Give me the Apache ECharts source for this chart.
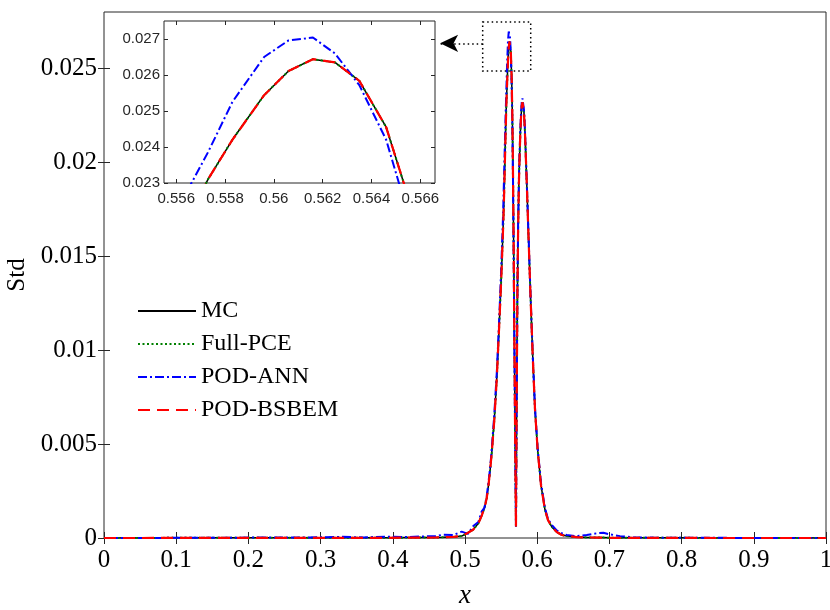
<!DOCTYPE html>
<html>
<head>
<meta charset="utf-8">
<script src="https://cdn.jsdelivr.net/npm/echarts@6/dist/echarts.min.js"></script>
<style>
html,body{margin:0;padding:0;background:#fff;}
#chart{width:830px;height:610px;}
</style>
</head>
<body>
<div id="chart"></div>
<script>
// ---- data ----
const xs = [0, 0.05, 0.1, 0.15, 0.2, 0.25, 0.3, 0.33, 0.36, 0.39, 0.42, 0.44, 0.46, 0.47, 0.4838, 0.4954, 0.5042, 0.5115, 0.5185, 0.523, 0.5268, 0.530, 0.5323, 0.535, 0.537, 0.5406, 0.544, 0.547, 0.550, 0.5523, 0.5533, 0.5543, 0.5553, 0.5563, 0.5573, 0.5583, 0.5596, 0.5606, 0.5616, 0.5625, 0.5635, 0.5646, 0.5656, 0.5666, 0.5676, 0.5686, 0.5696, 0.5706, 0.5716, 0.5726, 0.5736, 0.5746, 0.5756, 0.5766, 0.5776, 0.5786, 0.5796, 0.5806, 0.5816, 0.5826, 0.5836, 0.585, 0.5865, 0.588, 0.591, 0.594, 0.597, 0.6006, 0.6053, 0.6108, 0.615, 0.6201, 0.627, 0.634, 0.6409, 0.6547, 0.6686, 0.6824, 0.6916, 0.7, 0.7147, 0.733, 0.76, 0.8, 0.85, 0.9, 0.95, 1.0];

const mcStd = [0, 0, 0.00001, 0.00001, 0.00001, 0.00001, 0.00001, 0.00001, 0.00001, 0.00001, 0.00002, 0.00002, 0.00003, 0.00004, 0.00006, 0.00010, 0.00028, 0.00045, 0.00078, 0.00118, 0.00158, 0.0021, 0.00273, 0.0037, 0.00451, 0.00629, 0.0085, 0.0110, 0.0136, 0.0160, 0.0171, 0.0185, 0.0201, 0.0217, 0.0231, 0.0242, 0.02544, 0.02611, 0.02644, 0.02635, 0.02584, 0.02455, 0.0224, 0.0190, 0.0145, 0.0095, 0.0048, 0.0006, 0.0075, 0.0130, 0.0165, 0.0188, 0.0203, 0.0215, 0.0224, 0.0230, 0.0232, 0.0231, 0.0227, 0.0220, 0.0210, 0.0195, 0.0178, 0.0160, 0.0126, 0.0095, 0.0068, 0.0047, 0.0028, 0.0015, 0.00095, 0.0006, 0.00032, 0.00016, 0.00011, 0.00005, 0.00003, 0.00002, 0.00002, 0.00001, 0.00001, 0.00001, 0.00001, 0.00001, 0, 0, 0, 0];

const pceStd = [0, 0, 0.00001, 0.00001, 0.00001, 0.00001, 0.00001, 0.00001, 0.00001, 0.00001, 0.00002, 0.00002, 0.00003, 0.00004, 0.00006, 0.00010, 0.00028, 0.00045, 0.00078, 0.00118, 0.00158, 0.0021, 0.00273, 0.0037, 0.00451, 0.00629, 0.0085, 0.0110, 0.0136, 0.0160, 0.0171, 0.0185, 0.0201, 0.0217, 0.0231, 0.0242, 0.02544, 0.02611, 0.02644, 0.02635, 0.02584, 0.02455, 0.0224, 0.0190, 0.0145, 0.0095, 0.0048, 0.0006, 0.0075, 0.0130, 0.0165, 0.0188, 0.0203, 0.0215, 0.0224, 0.0230, 0.0232, 0.0231, 0.0227, 0.0220, 0.0210, 0.0195, 0.0178, 0.0160, 0.0126, 0.0095, 0.0068, 0.0047, 0.0028, 0.0015, 0.00095, 0.0006, 0.00032, 0.00016, 0.00011, 0.00005, 0.00003, 0.00002, 0.00002, 0.00001, 0.00001, 0.00001, 0.00001, 0.00001, 0, 0, 0, 0];

const annStd = [0, 0, 0.00001, 0.00001, 0.00002, 0.00002, 0.00004, 0.00006, 0.00003, 0.00007, 0.00005, 0.00008, 0.00010, 0.00018, 0.00016, 0.00034, 0.00022, 0.00064, 0.00085, 0.0014, 0.0016, 0.0022, 0.0029, 0.0038, 0.0047, 0.0066, 0.0088, 0.0113, 0.0142, 0.0167, 0.0180, 0.0196, 0.0211, 0.02259, 0.02385, 0.02525, 0.0265, 0.02696, 0.02704, 0.0266, 0.02572, 0.0242, 0.0219, 0.0186, 0.0142, 0.0093, 0.0047, 0.0006, 0.0076, 0.0132, 0.0167, 0.0190, 0.0205, 0.0217, 0.0226, 0.0232, 0.0234, 0.0233, 0.0228, 0.0221, 0.0211, 0.0196, 0.0179, 0.0161, 0.0127, 0.0096, 0.0069, 0.0048, 0.0029, 0.0016, 0.0010, 0.0007, 0.0004, 0.00025, 0.00016, 0.00010, 0.00016, 0.00025, 0.00028, 0.0002, 0.0001, 0.00004, 0.00002, 0.00001, 0.00001, 0, 0, 0];

const bsbemStd = [0, 0, 0.00001, 0.00001, 0.00001, 0.00001, 0.00001, 0.00001, 0.00001, 0.00001, 0.00002, 0.00002, 0.00003, 0.00004, 0.00006, 0.00010, 0.00028, 0.00045, 0.00078, 0.00118, 0.00158, 0.0021, 0.00273, 0.0037, 0.00451, 0.00629, 0.0085, 0.0110, 0.0136, 0.0160, 0.0171, 0.0185, 0.0201, 0.0217, 0.0231, 0.0242, 0.02544, 0.02611, 0.02644, 0.02635, 0.02584, 0.02455, 0.0224, 0.0190, 0.0145, 0.0095, 0.0048, 0.0006, 0.0075, 0.0130, 0.0165, 0.0188, 0.0203, 0.0215, 0.0224, 0.0230, 0.0232, 0.0231, 0.0227, 0.0220, 0.0210, 0.0195, 0.0178, 0.0160, 0.0126, 0.0095, 0.0068, 0.0047, 0.0028, 0.0015, 0.00095, 0.0006, 0.00032, 0.00016, 0.00011, 0.00005, 0.00003, 0.00002, 0.00002, 0.00001, 0.00001, 0.00001, 0.00001, 0.00001, 0, 0, 0, 0];

const seriesNames = ['MC', 'Full-PCE', 'POD-ANN', 'POD-BSBEM'];
const xTicks = [0, 0.1, 0.2, 0.3, 0.4, 0.5, 0.6, 0.7, 0.8, 0.9, 1];
const yTicks = [0, 0.005, 0.01, 0.015, 0.02, 0.025];
const insetXTicks = [0.556, 0.558, 0.56, 0.562, 0.564, 0.566];
const insetYTicks = [0.023, 0.024, 0.025, 0.026, 0.027];

// ---- chart ----
const chart = echarts.init(document.getElementById('chart'), null, {renderer: 'canvas'});
const SERIF = 'Liberation Serif';
const SANS = 'Liberation Sans';
const AX = '#262626';
const fmt = v => String(+(+v).toFixed(4));

const styles = [
  {color: '#000000', width: 1.5, type: 'solid', z: 2},
  {color: '#008000', width: 2, type: [2, 2.5], z: 3},
  {color: '#0000ff', width: 2, type: [9, 3, 2, 3], z: 4},
  {color: '#ff0000', width: 2.2, type: [12, 7], z: 5}
];
const allData = [mcStd, pceStd, annStd, bsbemStd];
const pair = ys => xs.map((x, i) => [x, ys[i]]);

const series = [];
seriesNames.forEach((name, k) => {
  const st = styles[k];
  const base = {
    name: name, type: 'line', showSymbol: false, symbol: 'none',
    data: pair(allData[k]), color: st.color,
    lineStyle: {color: st.color, width: st.width, type: st.type},
    z: st.z, animation: false, clip: true
  };
  series.push(Object.assign({}, base, {xAxisIndex: 0, yAxisIndex: 0}));
  series.push(Object.assign({}, base, {xAxisIndex: 2, yAxisIndex: 2}));
});

// zoom-box annotation and arrow on main axes
series.push({
  type: 'line', xAxisIndex: 0, yAxisIndex: 0, data: [], silent: true, animation: false,
  markArea: {
    silent: true,
    itemStyle: {color: 'rgba(0,0,0,0)', borderColor: '#000', borderWidth: 1.5, borderType: [1.5, 3]},
    data: [[{coord: [0.5245, 0.02747]}, {coord: [0.5910, 0.02486]}]]
  },
  markLine: {
    silent: true, symbol: ['none', 'arrow'], symbolSize: [13, 18],
    label: {show: false},
    lineStyle: {color: '#000', width: 1.5, type: [1.5, 3]},
    data: [[{coord: [0.5245, 0.02633]}, {coord: [0.4655, 0.02633]}]]
  }
});

const tickOnly = (extra) => Object.assign({
  type: 'value', axisLine: {show: false}, axisLabel: {show: false},
  splitLine: {show: false}, axisTick: {show: true, inside: true, length: 6, lineStyle: {color: AX}}
}, extra);

const option = {
  backgroundColor: '#ffffff',
  animation: false,
  legend: {
    orient: 'vertical', left: 132, top: 294, itemWidth: 58, itemHeight: 14, itemGap: 9,
    data: seriesNames,
    itemStyle: {color: 'rgba(0,0,0,0)', borderWidth: 0, opacity: 0},
    textStyle: {fontFamily: SERIF, fontSize: 24, color: '#000', lineHeight: 24},
    backgroundColor: 'rgba(0,0,0,0)'
  },
  grid: [
    {left: 104, top: 12, width: 722, height: 526, show: true, borderColor: AX, borderWidth: 1, backgroundColor: '#fff', containLabel: false, outerBoundsMode: 'none'},
    {left: 164, top: 21, width: 271, height: 162, show: true, borderColor: AX, borderWidth: 1, backgroundColor: '#fff', containLabel: false, outerBoundsMode: 'none'}
  ],
  xAxis: [
    {type: 'value', gridIndex: 0, min: 0, max: 1, interval: 0.1, position: 'bottom',
      name: 'x', nameLocation: 'middle', nameGap: 44,
      nameTextStyle: {fontFamily: SERIF, fontStyle: 'italic', fontSize: 27, color: '#000'},
      axisLine: {show: false}, splitLine: {show: false},
      axisTick: {show: true, inside: true, length: 6, lineStyle: {color: AX}},
      axisLabel: {fontFamily: SERIF, fontSize: 25, color: '#000', margin: 10, formatter: fmt}},
    tickOnly({gridIndex: 0, min: 0, max: 1, interval: 0.1, position: 'top'}),
    {type: 'value', gridIndex: 1, min: 0.5555, max: 0.5666, position: 'bottom',
      axisLine: {show: false}, splitLine: {show: false},
      axisTick: {show: true, inside: true, length: 4, customValues: insetXTicks, lineStyle: {color: AX}},
      axisLabel: {fontFamily: SANS, fontSize: 15, color: AX, margin: 8, customValues: insetXTicks, formatter: fmt}},
    tickOnly({gridIndex: 1, min: 0.5555, max: 0.5666, position: 'top',
      axisTick: {show: true, inside: true, length: 4, customValues: insetXTicks, lineStyle: {color: AX}}})
  ],
  yAxis: [
    {type: 'value', gridIndex: 0, min: 0, max: 0.028, position: 'left',
      name: 'Std', nameLocation: 'middle', nameGap: 72, nameRotate: 90,
      nameTextStyle: {fontFamily: SERIF, fontSize: 25, color: '#000'},
      axisLine: {show: false}, splitLine: {show: false},
      axisTick: {show: true, inside: true, length: 6, customValues: yTicks, lineStyle: {color: AX}},
      axisLabel: {fontFamily: SERIF, fontSize: 25, color: '#000', margin: 7, customValues: yTicks, formatter: fmt}},
    tickOnly({gridIndex: 0, min: 0, max: 0.028, position: 'right',
      axisTick: {show: true, inside: true, length: 6, customValues: yTicks, lineStyle: {color: AX}}}),
    {type: 'value', gridIndex: 1, min: 0.023, max: 0.0275, position: 'left',
      axisLine: {show: false}, splitLine: {show: false},
      axisTick: {show: true, inside: true, length: 4, customValues: insetYTicks, lineStyle: {color: AX}},
      axisLabel: {fontFamily: SANS, fontSize: 15, color: AX, margin: 4, customValues: insetYTicks, formatter: fmt}},
    tickOnly({gridIndex: 1, min: 0.023, max: 0.0275, position: 'right',
      axisTick: {show: true, inside: true, length: 4, customValues: insetYTicks, lineStyle: {color: AX}}})
  ],
  series: series
};
chart.setOption(option);
</script>
</body>
</html>
